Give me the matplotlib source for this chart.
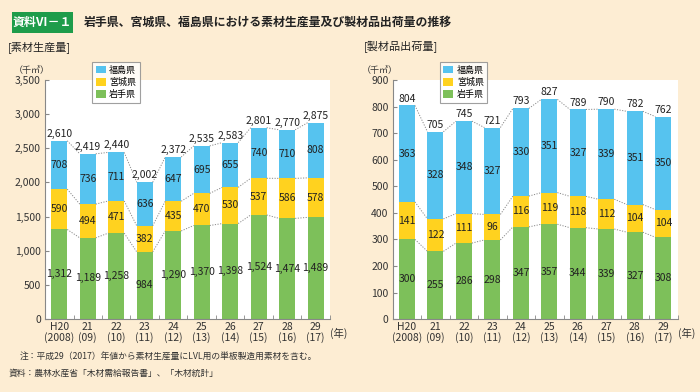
import matplotlib
matplotlib.use("Agg")
import matplotlib.pyplot as plt
from matplotlib.patches import Rectangle, Patch
import numpy as np

plt.rcParams['font.family'] = ['Noto Sans CJK JP', 'DejaVu Sans']

years = ["H20\n(2008)", "21\n(09)", "22\n(10)", "23\n(11)", "24\n(12)",
         "25\n(13)", "26\n(14)", "27\n(15)", "28\n(16)", "29\n(17)"]
series_names = ["岩手県", "宮城県", "福島県"]

# 素材生産量
log_iwate = [1312, 1189, 1258, 984, 1290, 1370, 1398, 1524, 1474, 1489]
log_miyagi = [590, 494, 471, 382, 435, 470, 530, 537, 586, 578]
log_fukushima = [708, 736, 711, 636, 647, 695, 655, 740, 710, 808]
log_total = [2610, 2419, 2440, 2002, 2372, 2535, 2583, 2801, 2770, 2875]

# 製材品出荷量
lum_iwate = [300, 255, 286, 298, 347, 357, 344, 339, 327, 308]
lum_miyagi = [141, 122, 111, 96, 116, 119, 118, 112, 104, 104]
lum_fukushima = [363, 328, 348, 327, 330, 351, 327, 339, 351, 350]
lum_total = [804, 705, 745, 721, 793, 827, 789, 790, 782, 762]

colors = ["#7DC05A", "#FFD21F", "#56C3EF"]
bg = "#FDEDD3"

fig = plt.figure(figsize=(7.0, 3.92), dpi=100)
fig.patch.set_facecolor(bg)

W = 0.56


def draw(ax, vals, totals, ymax, ystep, comma):
    x = np.arange(len(years))
    bottom = np.zeros(len(years))
    tops = []
    for v, c in zip(vals, colors):
        v = np.array(v, dtype=float)
        ax.bar(x, v, W, bottom=bottom, color=c, edgecolor='none', zorder=2)
        for xi, b, h in zip(x, bottom, v):
            s = f"{int(h):,}" if comma else f"{int(h)}"
            ax.text(xi, b + h / 2, s, ha='center', va='center', fontsize=7.5,
                    color='#222222', zorder=4)
        bottom = bottom + v
        tops.append(bottom.copy())
    for t in tops:
        for i in range(len(x) - 1):
            ax.plot([x[i] + W / 2, x[i + 1] - W / 2], [t[i], t[i + 1]],
                    ls=(0, (1.2, 1.5)), color='#8a8a8a', lw=0.7, zorder=3)
    for xi, t in zip(x, totals):
        s = f"{t:,}" if comma else f"{t}"
        ax.text(xi, t + ymax * 0.008, s, ha='center', va='bottom', fontsize=7.5,
                color='#222222', zorder=4)
    ax.set_xlim(-0.5, len(years) - 0.5)
    ax.set_ylim(0, ymax)
    ax.set_facecolor('white')
    yt = np.arange(0, ymax + 1, ystep)
    ax.set_yticks(yt)
    ax.set_yticklabels([f"{int(v):,}" if comma else f"{int(v)}" for v in yt],
                       fontsize=7.5, color='#333333')
    ax.set_xticks(x)
    ax.set_xticklabels(years, fontsize=7.5, color='#333333', linespacing=1.0)
    ax.set_xticks(np.arange(0.5, len(years) - 0.4, 1), minor=True)
    ax.tick_params(axis='x', which='major', length=0, pad=2)
    ax.tick_params(axis='x', which='minor', length=3, direction='in', color='#888888')
    ax.tick_params(axis='y', length=3, direction='in', color='#888888', pad=3)
    for s in ['top', 'right']:
        ax.spines[s].set_visible(False)
    for s in ['left', 'bottom']:
        ax.spines[s].set_color('#888888')
        ax.spines[s].set_linewidth(0.8)
    ax.text(1.0, -0.035, "(年)", transform=ax.transAxes, fontsize=7.5,
            ha='left', va='top', color='#333333')
    ax.text(-0.11, 1.02, "（千㎥）", transform=ax.transAxes, fontsize=6.5,
            ha='left', va='bottom', color='#333333')
    handles = [Patch(facecolor=colors[2], label="福島県"),
               Patch(facecolor=colors[1], label="宮城県"),
               Patch(facecolor=colors[0], label="岩手県")]
    leg = ax.legend(handles=handles, loc='upper left', bbox_to_anchor=(0.165, 1.075),
                    fontsize=6.5, frameon=True, fancybox=False, handlelength=1.1,
                    handleheight=0.9, handletextpad=0.4, borderpad=0.4,
                    labelspacing=0.35, borderaxespad=0)
    leg.get_frame().set_edgecolor('#888888')
    leg.get_frame().set_linewidth(0.8)
    leg.set_zorder(5)


ax1 = fig.add_axes([0.0643, 0.186, 0.407, 0.610])
draw(ax1, [log_iwate, log_miyagi, log_fukushima], log_total, 3500, 500, True)
ax2 = fig.add_axes([0.561, 0.186, 0.407, 0.610])
draw(ax2, [lum_iwate, lum_miyagi, lum_fukushima], lum_total, 900, 100, False)

# Title
fig.patches.append(Rectangle((12 / 700, 1 - 33 / 392), 61 / 700, 21 / 392,
                             transform=fig.transFigure, facecolor='#1E9C4A',
                             edgecolor='none'))
fig.text(42.5 / 700, 1 - 22.5 / 392, "資料Ⅵ－１", color='white', fontsize=8.6,
         ha='center', va='center', fontweight='bold')
fig.text(84 / 700, 1 - 22.5 / 392,
         "岩手県、宮城県、福島県における素材生産量及び製材品出荷量の推移",
         fontsize=8.6, ha='left', va='center', fontweight='bold', color='#222222')
fig.text(8 / 700, 1 - 47 / 392, "[素材生産量]", fontsize=8, ha='left',
         va='center', color='#222222')
fig.text(364 / 700, 1 - 47 / 392, "[製材品出荷量]", fontsize=8, ha='left',
         va='center', color='#222222')

fig.text(20 / 700, 1 - 356 / 392,
         "注：平成29（2017）年値から素材生産量にLVL用の単板製造用素材を含む。",
         fontsize=6.3, ha='left', va='center', color='#333333')
fig.text(9 / 700, 1 - 373 / 392,
         "資料：農林水産省「木材需給報告書」、「木材統計」",
         fontsize=6.3, ha='left', va='center', color='#333333')

fig.savefig("out.png", dpi=100, facecolor=bg)
